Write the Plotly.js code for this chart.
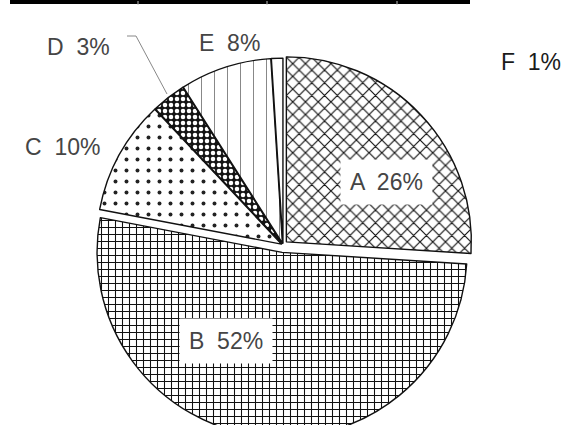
<!DOCTYPE html>
<html>
<head>
<meta charset="utf-8">
<script src="https://cdn.plot.ly/plotly-3.0.1.min.js"></script>
<style>
  html, body { margin: 0; padding: 0; background: #fff; overflow: hidden; width: 582px; height: 425px; }
  #chart { width: 582px; height: 440px; }
</style>
</head>
<body>
<div id="chart"></div>
<script>
// Share of each category, in percent, clockwise from 12 o'clock
const categories = ['A', 'B', 'C', 'D', 'E', 'F'];
const shares = [26, 52, 10, 3, 8, 1];

// Fill style of each wedge
const fillShapes = ['x', '+', '.', '.', '|', ''];
const fillFg = ['#111', '#111', '#222', '#fff', '#888', '#111'];
const fillBg = ['#fff', '#fff', '#fff', '#151515', '#fff', '#fff'];
const fillSize = [9, 7, 11, 6, 13, 8];
const fillSolidity = [0.24, 0.28, 0.1, 0.45, 0.08, 0.2];
const pulls = [0.025, 0.04, 0.01, 0.01, 0.01, 0.01];

// Page geometry of the pie
const W = 582, H = 440;
const cx = 283, cy = 245, R = 185;
const maxPull = Math.max(...pulls);
const half = R * (1 + maxPull);

const domain = {
  x: [(cx - half) / W, (cx + half) / W],
  y: [Math.max(0, (H - cy - half) / H), (H - cy + half) / H]
};

const labelText = categories.map((c, i) => c + '  ' + shares[i] + '%');

const trace = {
  type: 'pie',
  labels: categories,
  values: shares,
  sort: false,
  direction: 'clockwise',
  rotation: 0,
  pull: pulls,
  textinfo: 'none',
  hoverinfo: 'label+percent',
  showlegend: false,
  domain: domain,
  marker: {
    colors: fillBg,
    line: { color: '#111', width: 1.4 },
    pattern: {
      shape: fillShapes,
      fgcolor: fillFg,
      bgcolor: fillBg,
      size: fillSize,
      solidity: fillSolidity,
      fillmode: 'replace'
    }
  }
};

// Label placement (page pixels) for each category
const labelPos = [
  { x: 386, y: 182, box: true },
  { x: 226, y: 341, box: true },
  { x: 62, y: 147, box: false },
  { x: 78, y: 47, box: false },
  { x: 229, y: 43, box: false },
  { x: 531, y: 62, box: false, dark: true }
];

const annotations = labelText.map((t, i) => {
  const p = labelPos[i];
  return {
    xref: 'paper', yref: 'paper',
    x: p.x / W, y: (H - p.y) / H,
    xanchor: 'center', yanchor: 'middle',
    text: t,
    showarrow: false,
    font: { family: 'Liberation Sans, Arial, sans-serif', size: 23, color: p.dark ? '#1a1a1a' : '#454545' },
    bgcolor: p.box ? '#fff' : 'rgba(0,0,0,0)',
    borderpad: p.box ? 9 : 0
  };
});

const px = v => v / W;
const py = v => (H - v) / H;

const shapes = [
  // dark rule across the top
  { type: 'rect', xref: 'paper', yref: 'paper', x0: px(10), x1: px(470), y0: py(4), y1: py(0),
    fillcolor: '#000', line: { width: 0 } },
  // small notches in the rule
  ...[138, 267, 397].map(x => ({ type: 'line', xref: 'paper', yref: 'paper',
    x0: px(x), x1: px(x), y0: py(1), y1: py(5), line: { color: '#bbb', width: 1 } })),
  // leader line for D
  { type: 'path', xref: 'paper', yref: 'paper',
    path: `M ${px(127)} ${py(36)} L ${px(136)} ${py(36)} L ${px(167)} ${py(94)}`,
    line: { color: '#888', width: 1 } }
];

const layout = {
  width: W, height: H,
  margin: { l: 0, r: 0, t: 0, b: 0 },
  paper_bgcolor: '#fff',
  annotations: annotations,
  shapes: shapes
};

Plotly.newPlot('chart', [trace], layout, { displayModeBar: false, staticPlot: true });
</script>
</body>
</html>
